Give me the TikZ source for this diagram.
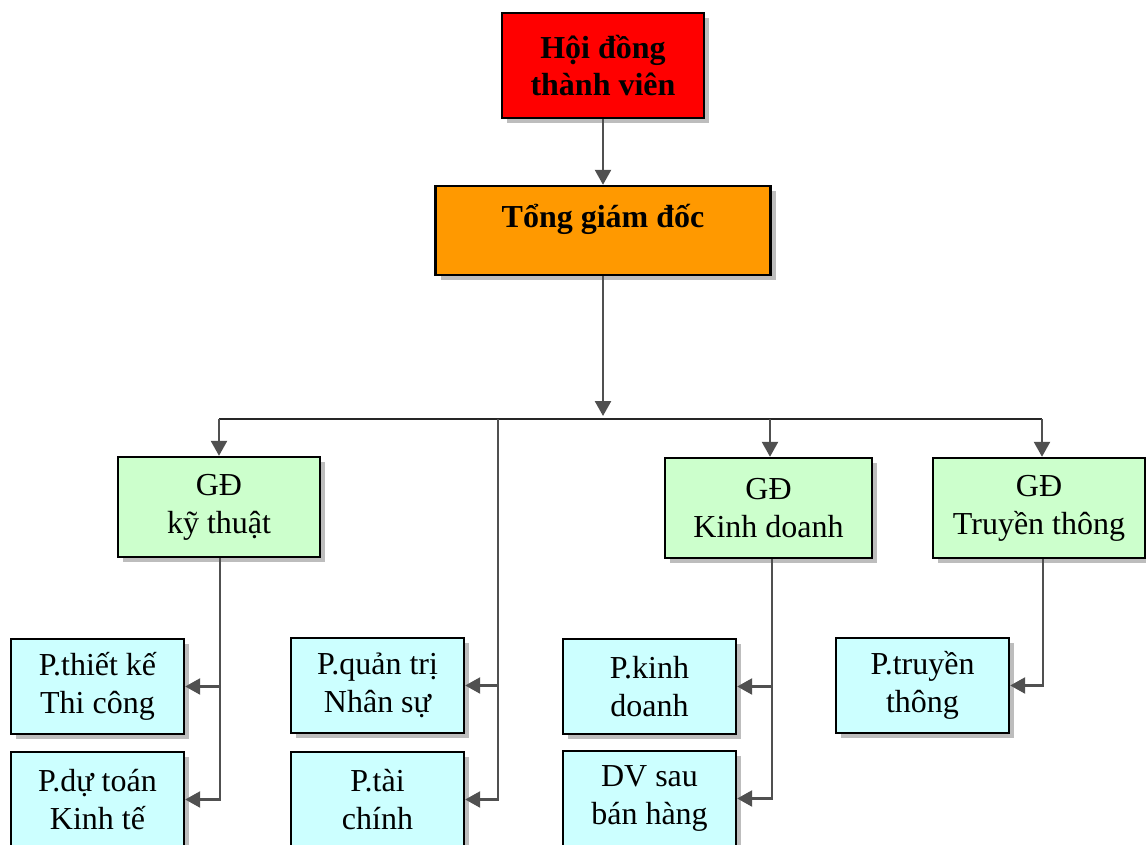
\documentclass[tikz,border=0pt]{standalone}
\usepackage{fontspec}
\setmainfont{Liberation Serif}
\usetikzlibrary{positioning,arrows.meta,shadows}
\definecolor{hdred}{HTML}{FF0000}
\definecolor{tgdorange}{HTML}{FF9900}
\definecolor{gdgreen}{HTML}{CCFFCC}
\definecolor{phcyan}{HTML}{CCFFFF}
\definecolor{linegray}{HTML}{505050}
\definecolor{shadowgray}{HTML}{BDBDBD}

\begin{document}
\begin{tikzpicture}[x=1pt,y=-1pt,
  box/.style={draw=black, line width=2.4pt, align=center, inner sep=2pt,
    font=\fontsize{32}{38}\selectfont,
    drop shadow={shadow xshift=5pt, shadow yshift=-5pt, fill=shadowgray, opacity=1}},
  gdbox/.style={box, fill=gdgreen, minimum height=100pt},
  phbox/.style={box, fill=phcyan, minimum width=173pt, minimum height=95pt},
  conn/.style={draw=linegray, line width=2.5pt, -{Triangle[length=15pt,width=16pt]}},
  busline/.style={draw=black!85, line width=2.5pt}]
\useasboundingbox (0,0) rectangle (1146,845);

% top
\node[box, fill=hdred, minimum width=202pt, minimum height=105pt,
  font=\fontsize{32}{37}\selectfont\bfseries] (hdtv) at (603,65.5) {Hội đồng\\thành viên};
\node[box, fill=tgdorange, minimum width=335pt, minimum height=89pt,
  text height=22pt, text depth=27pt, font=\fontsize{32}{38}\selectfont\bfseries]
  (tgd) at (603,230.5) {Tổng giám đốc};

% giam doc
\node[gdbox, minimum width=202pt] (gkt) at (219,507) {GĐ\\kỹ thuật};
\node[gdbox, minimum width=207pt] (gkd) at (768.5,508) {GĐ\\Kinh doanh};
\node[gdbox, minimum width=212pt] (gtt) at (1039,508) {GĐ\\Truyền thông};

% phong
\node[phbox] (ptk) at (97.5,686.5) {P.thiết kế\\Thi công};
\node[phbox] (pdt) at (97.5,799.5) {P.dự toán\\Kinh tế};
\node[phbox] (pqt) at (377.5,685.5) {P.quản trị\\Nhân sự};
\node[phbox] (ptc) at (377.5,799.5) {P.tài\\chính};
\node[phbox] (pkd) at (649.5,686.5) {P.kinh\\doanh};
\node[phbox] (dv) at (649.5,798.5) {DV sau\\bán hàng};
\node[phbox] (ptt) at (922.5,685.5) {P.truyền\\thông};

\coordinate (bustip) at (603,416);
\coordinate (busL) at (219,419);
\coordinate (busR) at (1042,419);
\coordinate (bqt) at (498,419);
\coordinate (bkd) at (770,419);

\draw[conn] (hdtv) -- (tgd);
\draw[conn] (tgd) -- (bustip);
\draw[busline] (busL) -- (busR);
\draw[conn] (busL) -- (gkt.north);
\draw[conn] (bkd) -- (bkd |- gkd.north);
\draw[conn] (busR) -- (busR |- gtt.north);

\draw[conn] (bqt) |- (ptc);
\draw[conn] (bqt |- pqt) -- (pqt);
\draw[conn] ([xshift=1pt]gkt.south) |- (pdt);
\draw[conn] ([xshift=1pt]gkt.south |- ptk) -- (ptk);
\draw[conn] ([xshift=3.5pt]gkd.south) |- (dv);
\draw[conn] ([xshift=3.5pt]gkd.south |- pkd) -- (pkd);
\draw[conn] ([xshift=4pt]gtt.south) |- (ptt);
\end{tikzpicture}
\end{document}
